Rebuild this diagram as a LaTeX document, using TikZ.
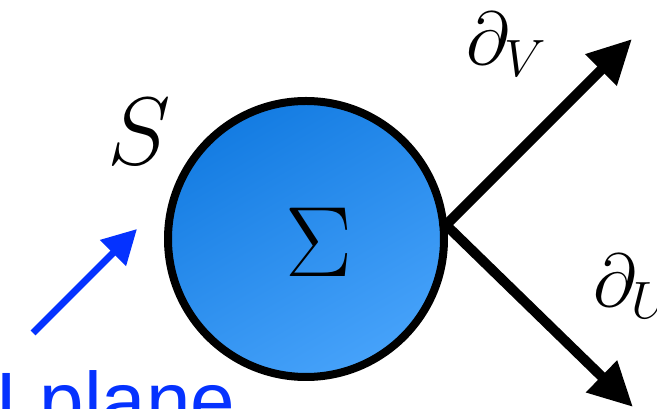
\RequirePackage{fix-cm}
\documentclass[tikz,border=0pt]{standalone}
\usepackage{fontspec}
\newfontfamily\lsans{Liberation Sans}
\usetikzlibrary{arrows.meta}
\definecolor{sigA}{RGB}{20,124,226}
\definecolor{sigB}{RGB}{70,162,250}
\definecolor{planeblue}{RGB}{5,50,255}
\begin{document}
\begin{tikzpicture}[x=1pt,y=1pt,
  lbl/.style={inner sep=0pt},
  bigarrow/.style={line width=10pt, line join=miter,
    {Triangle[length=44pt,width=42pt]}-{Triangle[length=44pt,width=42pt]}},
  bluearrow/.style={draw=planeblue, line width=7pt, -{Triangle[length=34pt,width=35pt]}}]
\useasboundingbox (0,0) rectangle (657,409);
\clip (0,0) rectangle (657,409);
\node[circle, minimum size=276pt, inner sep=0pt, line width=8pt, draw=black,
      top color=sigA, bottom color=sigB, shading angle=30] (sig) at (306,170) {};
\node[lbl, anchor=base, font=\fontsize{100}{100}\selectfont] (sum) at (319,132) {$\Sigma$};
\node[lbl, anchor=base west, font=\fontsize{96}{96}\selectfont] (S) at (107,244) {$S$};
\node[lbl, anchor=base west, font=\fontsize{75}{75}\selectfont] (dv) at (466,344) {$\partial_V$};
\node[lbl, anchor=base west, font=\fontsize{75}{75}\selectfont] (du) at (593,102) {$\partial_U$};
\node[lbl, anchor=base west, font=\lsans\fontsize{80}{80}\selectfont, text=planeblue] (plane) at (-5,-20) {I plane};
\coordinate (p) at (446,184);
\coordinate (tv) at (632,370);
\coordinate (tu) at (633,2);
\draw[bigarrow] (tv) -- (p) -- (tu);
\coordinate (bt) at (33,76);
\coordinate (bh) at (137,180);
\draw[bluearrow] (bt) -- (bh);
\end{tikzpicture}
\end{document}
